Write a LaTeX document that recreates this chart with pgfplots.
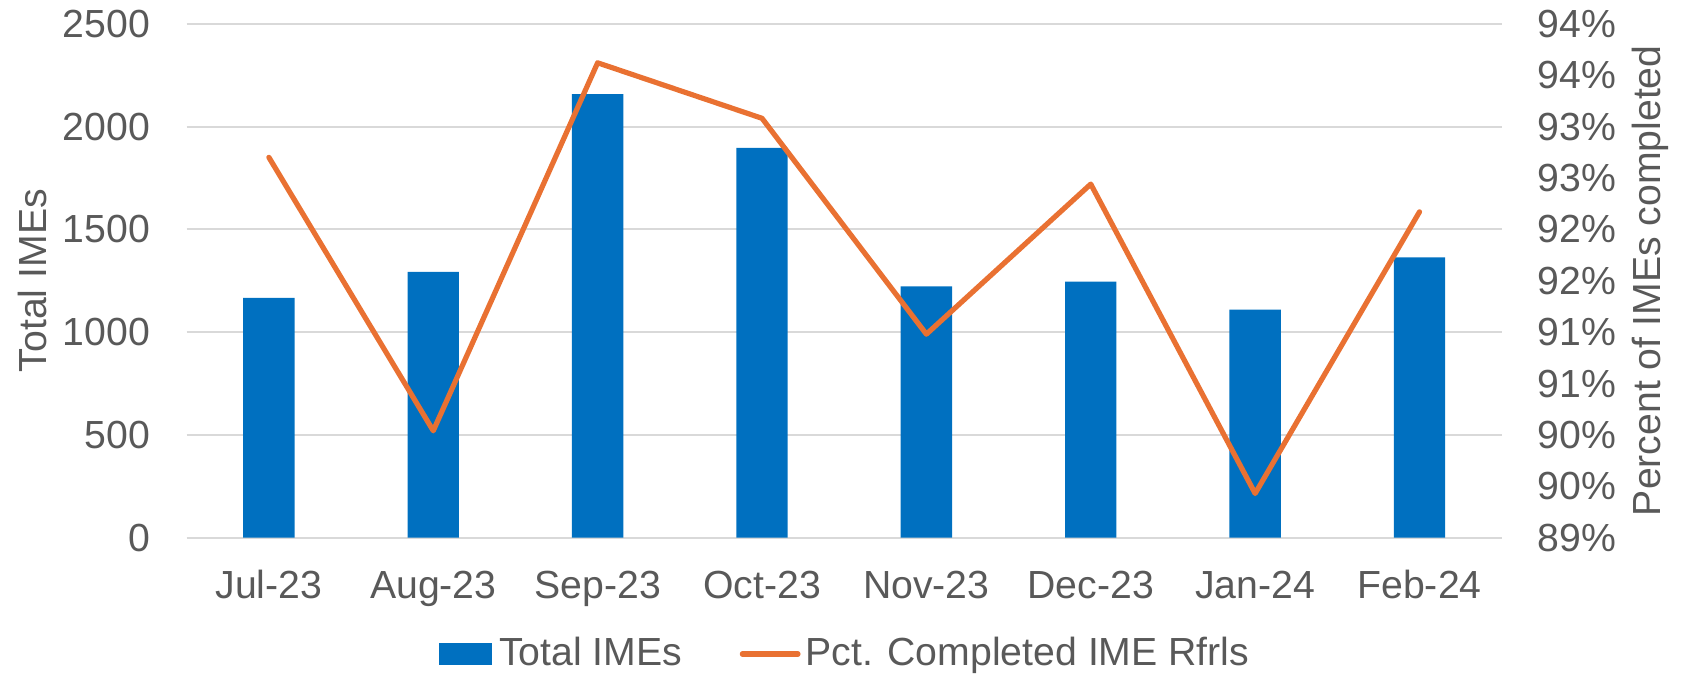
\documentclass[border=0pt]{standalone}
\usepackage{fontspec}
\setmainfont{Liberation Sans}
\usepackage{pgfplots}
\pgfplotsset{compat=1.18}
\definecolor{barblue}{HTML}{0070C0}
\definecolor{lineorange}{HTML}{E97132}
\definecolor{txtgray}{HTML}{595959}
\definecolor{gridgray}{HTML}{D9D9D9}
\newcommand{\chartfont}{\fontsize{9.8bp}{11.8bp}\selectfont}
\begin{document}
\begin{tikzpicture}
\useasboundingbox (-46.675bp,-34.575bp) rectangle (374.575bp,134.425bp);
\pgfplotsset{
  common/.style={
    scale only axis,
    width=328.75bp, height=128.5bp,
    xmin=-0.5, xmax=7.5,
    axis line style={draw=none},
    major tick length=0pt,
    tick label style={font=\chartfont, text=txtgray},
    label style={font=\chartfont, text=txtgray},
  }
}
\begin{axis}[common,
  ymin=0, ymax=2500,
  ytick={0,500,1000,1500,2000,2500},
  ymajorgrids,
  grid style={draw=gridgray, line width=0.5bp},
  xtick={0,1,2,3,4,5,6,7},
  xticklabels={Jul-23,Aug-23,Sep-23,Oct-23,Nov-23,Dec-23,Jan-24,Feb-24},
  xticklabel style={anchor=base, yshift=-15.1bp, inner sep=0pt},
  yticklabel style={anchor=east, xshift=-9bp, inner sep=0pt},
  /pgf/number format/assume math mode=true,
  /pgf/number format/1000 sep={},
  ylabel={Total IMEs},
  ylabel style={at={(axis description cs:-0.1173,0.5)}, anchor=center, inner sep=0pt},
]
\addplot[ybar, bar width=12.83bp, fill=barblue, draw=none, bar shift=0pt]
  coordinates {(0,1167) (1,1293) (2,2158) (3,1896) (4,1222) (5,1245) (6,1109) (7,1364)};
\end{axis}
\begin{axis}[common,
  ymin=89, ymax=94,
  axis y line*=right,
  axis x line=none,
  ytick={89,89.5,90,90.5,91,91.5,92,92.5,93,93.5,94},
  yticklabels={89\%,90\%,90\%,91\%,91\%,92\%,92\%,93\%,93\%,94\%,94\%},
  yticklabel style={anchor=west, xshift=8.8bp, inner sep=0pt},
  ylabel={Percent of IMEs completed},
  ylabel style={at={(axis description cs:1.1134,0.5)}, anchor=center, rotate=0, inner sep=0pt},
  legend columns=2,
  legend style={draw=none, fill=none, font=\chartfont, text=txtgray,
    at={(axis description cs:0.5,-0.2263)}, anchor=center,
    inner sep=0pt, nodes={inner sep=0pt},
    /tikz/every even column/.append style={column sep=14.4bp}},
  legend cell align=left,
]
\addlegendimage{legend image code/.code={\fill[barblue] (0bp,-2.6bp) rectangle (12.9bp,2.6bp); \path (14.6bp,0bp);}}
\addlegendentry{Total IMEs}
\addplot[color=lineorange, line width=1.3bp, line join=round, line cap=round, mark=none,
  legend image code/.code={\draw[lineorange, line width=1.3bp, line cap=round] (0bp,0bp) -- (13.9bp,0bp); \path (15.15bp,0bp);}]
  coordinates {(0,92.70) (1,90.04) (2,93.62) (3,93.08) (4,90.98) (5,92.44) (6,89.43) (7,92.17)};
\addlegendentry{Pct. Completed IME Rfrls}
\end{axis}
\end{tikzpicture}
\end{document}
